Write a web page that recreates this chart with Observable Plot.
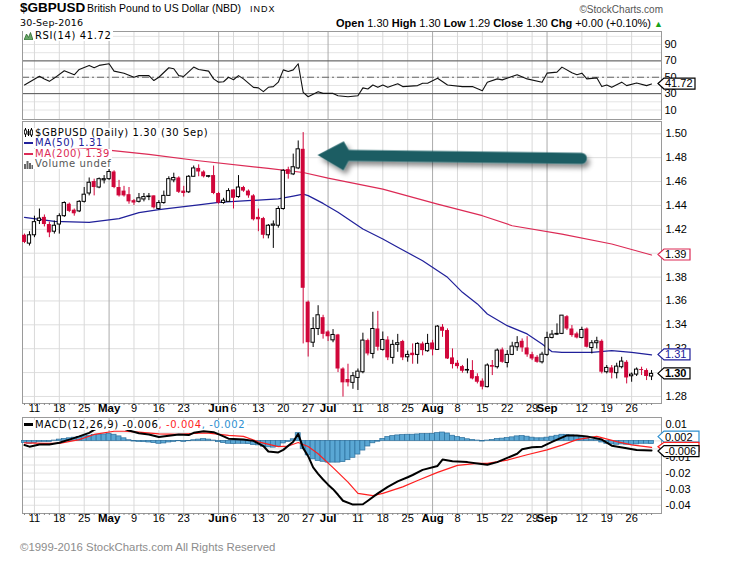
<!DOCTYPE html>
<html>
<head>
<meta charset="utf-8">
<script src="https://cdn.jsdelivr.net/npm/d3@7"></script>
<script src="https://cdn.jsdelivr.net/npm/@observablehq/plot@0.6"></script>
<style>
html,body{margin:0;padding:0;background:#fff}
#wrap{position:relative;width:729px;height:568px;overflow:hidden;background:#fff;font-family:"Liberation Sans",Arial,sans-serif;color:#000}
.t{position:absolute;white-space:nowrap}
.leg{position:absolute;white-space:nowrap;font-family:"DejaVu Sans",sans-serif;font-size:10px;letter-spacing:0.6px;line-height:10px;height:10px;background:#fff;padding:0 2px 0 1px;display:flex;align-items:center}
.leg svg{flex:none;margin-right:2px}
.dash{display:inline-block;width:9px;margin-right:2px;flex:none}
</style>
</head>
<body>
<div id="wrap"></div>
<script>
// ---------------- DATA ----------------
const firstDay = "2016-04-07", lastDay = "2016-09-30";

const opens = [
1.415,1.408,1.415,1.427,1.430,1.424,1.418,1.424,1.431,1.441,
1.436,1.435,1.443,1.450,1.460,1.455,1.461,1.462,1.468,1.455,
1.452,1.449,1.444,1.443,1.445,1.447,1.448,1.437,1.442,1.448,
1.461,1.463,1.452,1.451,1.464,1.471,1.468,1.464,1.465,1.450,
1.442,1.443,1.453,1.447,1.455,1.452,1.448,1.430,1.429,1.415,
1.423,1.423,1.437,1.470,1.466,1.471,1.487,1.359,1.325,1.3365,
1.346,1.334,1.327,1.3315,1.303,1.2942,1.2914,1.2955,1.3003,1.3268,
1.3156,1.3365,1.319,1.3273,1.3123,1.3232,1.326,1.3128,1.3162,1.3148,
1.324,1.3179,1.3248,1.319,1.338,1.3352,1.3123,1.3078,1.305,1.3017,
1.3017,1.2966,1.2928,1.2878,1.3059,1.3045,1.319,1.308,1.3148,1.3212,
1.3262,1.3206,1.315,1.3128,1.3086,1.3148,1.329,1.3318,1.3324,1.3468,
1.3365,1.3324,1.329,1.3365,1.3206,1.3246,1.3262,1.3003,1.3039,1.2995,
1.3045,1.3086,1.2969,1.2983,1.3025,1.3017,1.2967];
const highs = [
1.416,1.418,1.431,1.437,1.432,1.426,1.427,1.433,1.443,1.442,
1.437,1.444,1.455,1.463,1.462,1.463,1.465,1.470,1.469,1.461,
1.456,1.455,1.445,1.450,1.450,1.450,1.448,1.444,1.452,1.464,
1.467,1.464,1.456,1.465,1.473,1.474,1.469,1.465,1.473,1.451,
1.446,1.454,1.453,1.465,1.456,1.453,1.449,1.437,1.430,1.424,
1.427,1.439,1.470,1.472,1.483,1.494,1.501,1.360,1.346,1.356,
1.348,1.335,1.336,1.332,1.304,1.307,1.300,1.303,1.333,1.328,
1.3505,1.3513,1.334,1.330,1.327,1.332,1.327,1.318,1.324,1.325,
1.3255,1.332,1.327,1.3393,1.3402,1.3366,1.3198,1.310,1.306,1.3115,
1.310,1.299,1.2947,1.3073,1.3101,1.3198,1.3206,1.3184,1.3254,1.3301,
1.3282,1.3301,1.317,1.3142,1.317,1.3338,1.3352,1.3408,1.3477,1.3477,
1.3394,1.3338,1.338,1.3374,1.3268,1.3296,1.3274,1.3059,1.3059,1.3078,
1.3128,1.310,1.2997,1.3039,1.3045,1.3031,1.3017];
const lows = [
1.408,1.406,1.413,1.424,1.422,1.413,1.416,1.416,1.430,1.434,
1.431,1.434,1.442,1.448,1.448,1.454,1.458,1.461,1.454,1.447,
1.447,1.441,1.440,1.442,1.443,1.444,1.437,1.436,1.441,1.448,
1.459,1.450,1.447,1.450,1.464,1.464,1.463,1.463,1.449,1.441,
1.441,1.443,1.437,1.446,1.451,1.446,1.427,1.418,1.412,1.412,
1.404,1.421,1.436,1.462,1.465,1.470,1.324,1.313,1.321,1.331,
1.328,1.326,1.325,1.300,1.2795,1.288,1.286,1.285,1.299,1.314,
1.3115,1.318,1.318,1.310,1.307,1.317,1.310,1.3087,1.307,1.307,
1.314,1.317,1.314,1.3185,1.3295,1.311,1.303,1.303,1.2995,1.299,
1.2939,1.2905,1.2855,1.2872,1.2975,1.303,1.3078,1.3039,1.3142,1.3178,
1.317,1.3128,1.310,1.3078,1.3072,1.3136,1.3282,1.331,1.3318,1.3352,
1.3296,1.3282,1.3282,1.3206,1.3156,1.3198,1.2989,1.2989,1.2947,1.2947,
1.3031,1.2905,1.2919,1.2967,1.2975,1.2933,1.2933];
const closes = [
1.409,1.415,1.426,1.429,1.424,1.417,1.423,1.431,1.442,1.435,
1.433,1.443,1.449,1.459,1.455,1.462,1.462,1.468,1.455,1.448,
1.448,1.443,1.442,1.446,1.447,1.447,1.438,1.442,1.448,1.462,
1.463,1.451,1.450,1.464,1.471,1.468,1.464,1.4642,1.450,1.442,
1.444,1.452,1.446,1.455,1.452,1.448,1.428,1.428,1.415,1.423,
1.424,1.437,1.469,1.466,1.472,1.487,1.3706,1.325,1.3365,1.348,
1.332,1.330,1.3315,1.303,1.2914,1.2914,1.297,1.3008,1.3268,1.3156,
1.3365,1.3212,1.3273,1.3123,1.3232,1.3246,1.3123,1.3148,1.3142,1.324,
1.3184,1.324,1.319,1.3385,1.3346,1.3114,1.3067,1.305,1.3011,1.3019,
1.2947,1.2919,1.2878,1.3059,1.3045,1.3184,1.3086,1.3148,1.3218,1.3246,
1.3206,1.3148,1.3114,1.3086,1.315,1.329,1.3318,1.3324,1.3477,1.3365,
1.331,1.329,1.3357,1.3212,1.3246,1.3262,1.3003,1.3039,1.2995,1.305,
1.3092,1.2955,1.2983,1.3025,1.3017,1.2967,1.2989];

const ma50 = [["04-07",1.4300],["04-15",1.4266],["04-26",1.4258],["05-04",1.4290],["05-10",1.4340],["05-16",1.4365],
["05-26",1.4405],["06-01",1.4425],["06-13",1.4445],["06-17",1.4455],["06-22",1.4478],["06-24",1.4495],["06-27",1.4482],
["06-30",1.4417],["07-05",1.4342],["07-12",1.4202],["07-18",1.4119],["07-21",1.4049],["07-28",1.3937],["08-04",1.3798],
["08-09",1.3672],["08-12",1.3575],["08-16",1.3491],["08-22",1.3393],["08-26",1.3324],["08-31",1.3240],["09-02",1.3175],
["09-06",1.3170],["09-14",1.3170],["09-20",1.3184],["09-26",1.3170],["09-30",1.3148]];
const ma200 = [["04-07",1.4900],["04-26",1.4880],["05-12",1.4828],["05-26",1.4774],["06-15",1.4710],["06-24",1.4676],
["07-01",1.4629],["07-18",1.4537],["08-02",1.4411],["08-15",1.4314],["08-23",1.4230],["09-06",1.4160],["09-20",1.4077],["09-30",1.3985]];

const rsi = [["04-07",40.5],["04-12",51.3],["04-13",48],["04-14",45],["04-15",49],["04-19",58],["04-21",53],["04-22",59.5],
["04-26",64.5],["04-27",61.6],["04-28",64.5],["05-02",66.5],["05-03",57.5],["05-05",55],["05-09",50],["05-10",52],["05-12",52],
["05-13",46],["05-16",50],["05-18",61.6],["05-19",60.4],["05-20",52],["05-23",51],["05-25",62.4],["05-26",59.5],["05-30",57.5],
["05-31",48],["06-01",44],["06-02",44.5],["06-03",50],["06-06",47],["06-07",52],["06-08",48],["06-10",37.7],["06-13",37],
["06-14",32.4],["06-15",37.7],["06-16",38.6],["06-17",44],["06-20",59],["06-21",57],["06-22",59],["06-23",66.5],["06-24",31.6],
["06-27",26.2],["06-29",32.4],["06-30",30.3],["07-04",30.3],["07-05",27.5],["07-07",26.2],["07-11",27.5],["07-12",37],
["07-13",35.7],["07-14",40.6],["07-15",37.7],["07-18",40.6],["07-19",37.7],["07-21",42],["07-22",38.6],["07-27",39.8],
["07-28",42.7],["07-29",42.7],["08-02",48.8],["08-04",40.6],["08-09",38.6],["08-11",38.6],["08-15",33.6],["08-16",44],
["08-18",48],["08-19",46.8],["08-24",53],["08-26",48],["08-31",44],["09-01",55],["09-05",56.3],["09-06",62.4],["09-08",55.4],
["09-09",53],["09-12",55],["09-13",48],["09-15",49.3],["09-16",38.6],["09-19",40.6],["09-20",37.7],["09-22",44],["09-23",39.8],
["09-27",43],["09-29",39.8],["09-30",41.72]];

const macd = [["04-07",-0.0026],["04-08",-0.0036],["04-12",-0.0022],["04-14",-0.0022],["04-18",-0.0012],["04-20",0.0008],
["04-22",0.0028],["04-26",0.005],["04-27",0.0068],["04-29",0.0095],["05-03",0.0098],["05-06",0.0064],["05-10",0.0048],
["05-12",0.004],["05-16",0.0024],["05-18",0.0032],["05-20",0.004],["05-24",0.0036],["05-25",0.005],["05-27",0.006],
["05-31",0.0054],["06-02",0.0028],["06-03",0.0014],["06-08",0.0008],["06-10",0],["06-14",-0.0032],["06-15",-0.0066],
["06-17",-0.0072],["06-20",-0.0056],["06-22",-0.0006],["06-23",0.0044],["06-24",-0.0045],["06-27",-0.0095],["06-28",-0.0165],
["06-29",-0.0205],["06-30",-0.024],["07-01",-0.0272],["07-04",-0.030],["07-05",-0.0335],["07-06",-0.0372],["07-08",-0.0396],
["07-12",-0.0394],["07-13",-0.0372],["07-15",-0.0326],["07-19",-0.0286],["07-21",-0.0252],["07-25",-0.0226],["07-26",-0.0212],
["07-28",-0.018],["08-02",-0.0156],["08-03",-0.0116],["08-05",-0.0126],["08-10",-0.0132],["08-12",-0.014],["08-16",-0.0148],
["08-18",-0.0132],["08-22",-0.0106],["08-24",-0.008],["08-25",-0.0052],["08-29",-0.004],["08-31",-0.0036],["09-02",-0.0006],
["09-07",0.0034],["09-09",0.0034],["09-13",0.0028],["09-16",0.0008],["09-20",-0.003],["09-23",-0.0046],["09-27",-0.0056],
["09-30",-0.006]];
const signal = [["04-07",-0.0012],["04-13",-0.0016],["04-18",-0.0016],["04-22",0.0008],["04-27",0.004],["05-03",0.006],
["05-05",0.006],["05-10",0.0054],["05-16",0.0044],["05-20",0.004],["05-26",0.0048],["05-30",0.0048],["06-03",0.0034],
["06-08",0.0028],["06-13",-0.0006],["06-17",-0.0036],["06-21",-0.0032],["06-23",-0.001],["06-27",-0.0035],["06-29",-0.008],
["07-04",-0.0166],["07-07",-0.0256],["07-11",-0.0326],["07-14",-0.034],["07-18",-0.0326],["07-22",-0.0286],["07-27",-0.0246],
["08-02",-0.0196],["08-08",-0.0152],["08-12",-0.014],["08-16",-0.014],["08-22",-0.012],["08-26",-0.0086],["09-01",-0.0056],
["09-06",-0.0026],["09-09",0.0008],["09-15",0.0028],["09-21",-0.0005],["09-26",-0.0025],["09-30",-0.004]];
const histogram = [
-0.0014,-0.0018,-0.0014,-0.0006,-0.0006,-0.0006,0.0002,0.0008,0.0012,0.0016,
0.002,0.0024,0.0028,0.0032,0.0036,0.0038,0.004,0.0042,0.0038,0.0028,
0.0016,0.0004,-0.0004,-0.0006,-0.0008,-0.001,-0.0014,-0.0018,-0.0016,-0.001,
-0.0006,-0.0002,-0.0006,-0.0002,0.0004,0.0008,0.0011,0.0008,0.0002,-0.0008,
-0.0014,-0.0018,-0.002,-0.0018,-0.0018,-0.002,-0.0026,-0.0028,-0.0036,-0.004,
-0.0042,-0.0036,-0.0016,-0.0006,0.001,0.0048,-0.005,-0.009,-0.0115,-0.0125,
-0.013,-0.0135,-0.0135,-0.0135,-0.0132,-0.012,-0.0105,-0.0085,-0.006,-0.0035,
-0.0015,-0.0005,0.0012,0.0024,0.003,0.0034,0.0036,0.0038,0.0038,0.004,
0.0042,0.0042,0.0044,0.0048,0.0052,0.0046,0.0032,0.0024,0.0018,0.001,
0.0006,0.0002,-0.0004,0.0002,0.0006,0.0012,0.0014,0.0018,0.0022,0.0028,
0.003,0.0026,0.002,0.0016,0.0016,0.002,0.0026,0.0032,0.0038,0.0036,
0.0034,0.003,0.0026,0.0016,0.0008,0.0004,-0.001,-0.0018,-0.0022,-0.0024,
-0.0022,-0.0024,-0.0024,-0.0022,-0.0018,-0.0018,-0.002];

const weekTicks = [["04-11","11"],["04-18","18"],["04-25","25"],["05-09","9"],["05-16","16"],["05-23","23"],["06-06","6"],
["06-13","13"],["06-20","20"],["06-27","27"],["07-11","11"],["07-18","18"],["07-25","25"],["08-08","8"],["08-15","15"],
["08-22","22"],["08-29","29"],["09-12","12"],["09-19","19"],["09-26","26"]];
const monthTicks = [["05-02","May"],["06-01","Jun"],["07-01","Jul"],["08-01","Aug"],["09-01","Sep"]];
const priceTicks = [1.28,1.30,1.32,1.34,1.36,1.38,1.40,1.42,1.44,1.46,1.48,1.50];
const rsiTicks = [10,30,50,70,90];
const rsiGrid = [10,20,30,40,50,60,70,80,90,100];
const rsiBands = [30,70], rsiMid = [50];
const macdTicks = [0.01,0,-0.01,-0.02,-0.03,-0.04];
const macdGrid = [0.01,0.005,0,-0.005,-0.01,-0.015,-0.02,-0.025,-0.03,-0.035,-0.04];
const arrowTip = ["06-29",1.4818], arrowTail = ["09-12",1.4790];

// ---------------- BUILD ----------------
const wrap = document.getElementById("wrap");
const days = d3.utcDay.range(new Date(firstDay), d3.utcDay.offset(new Date(lastDay), 1)).filter(d => d.getUTCDay() % 6 !== 0);
const key = d3.utcFormat("%m-%d");
const dayIndex = new Map(days.map((d, i) => [key(d), i]));
const X = s => dayIndex.get(s);
const series = arr => arr.map(([d, v]) => ({i: X(d), v}));
const candles = days.map((d, i) => ({i, o: opens[i], h: highs[i], l: lows[i], c: closes[i]}));
const up = candles.filter(d => d.c >= d.o), down = candles.filter(d => d.c < d.o);
const bars = histogram.map((v, i) => ({i, v}));

const W = 729, ML = 22, MR = 68;
const FONT = "'Liberation Sans', Arial, sans-serif";
const xOpt = {type: "linear", domain: [-0.4, 128], axis: null};
const baseStyle = {background: "transparent", overflow: "visible", fontFamily: FONT, fontSize: "11px", color: "#000"};
const fmt2 = v => (v < 0 ? "-" : "") + Math.abs(v).toFixed(2);
const vGrid = () => [
  Plot.ruleX(weekTicks, {x: d => X(d[0]), stroke: "#d9d9d9"}),
  Plot.ruleX(monthTicks, {x: d => X(d[0]), stroke: "#ababab"})
];
const dayTicks = () => Plot.axisX(days.map((d, i) => i), {anchor: "bottom", tickSize: 2, tickFormat: () => "", stroke: "#8a8a8a", label: null});
const xLabels = () => [
  Plot.text(weekTicks, {x: d => X(d[0]), text: d => d[1], frameAnchor: "bottom", dy: 8, fontSize: 11}),
  Plot.text(monthTicks, {x: d => X(d[0]), text: d => d[1], frameAnchor: "bottom", dy: 8, fontSize: 11.5, fontWeight: "bold"})
];

const rsiPlot = Plot.plot({
  width: W, height: 95, marginLeft: ML, marginRight: MR, marginTop: 6, marginBottom: 1,
  x: xOpt, y: {domain: [-1.6, 105.9]},
  style: baseStyle,
  marks: [
    Plot.ruleY(rsiGrid, {stroke: "#e4e4e4"}),
    ...vGrid(),
    Plot.ruleY(rsiBands, {stroke: "#555"}),
    Plot.ruleY(rsiMid, {stroke: "#666", strokeDasharray: "7,3,2,3"}),
    Plot.frame({stroke: "#9a9a9a"}),
    Plot.line(series(rsi), {x: "i", y: "v", stroke: "#111", strokeWidth: 1.1}),
    Plot.axisY({anchor: "right", ticks: rsiTicks, tickSize: 0, tickPadding: 3, fontSize: 11, label: null})
  ]
});

const mainPlot = Plot.plot({
  width: W, height: 296, marginLeft: ML, marginRight: MR, marginTop: 1, marginBottom: 13,
  x: xOpt, y: {domain: [1.2741, 1.5103]},
  style: baseStyle,
  marks: [
    Plot.ruleY(priceTicks, {stroke: "#dedede"}),
    ...vGrid(),
    Plot.frame({stroke: "#9a9a9a"}),
    Plot.line(series(ma200), {x: "i", y: "v", stroke: "#dc2a55", strokeWidth: 1.2}),
    Plot.line(series(ma50), {x: "i", y: "v", stroke: "#20209a", strokeWidth: 1.2}),
    Plot.ruleX(down, {x: "i", y1: "l", y2: "h", stroke: "#d0063a"}),
    Plot.ruleX(up, {x: "i", y1: "l", y2: "h", stroke: "#000"}),
    Plot.rect(down, {x1: d => d.i - 0.4, x2: d => d.i + 0.4, y1: "o", y2: d => Math.min(d.c, d.o - 0.0007), fill: "#d0063a"}),
    Plot.rect(up, {x1: d => d.i - 0.33, x2: d => d.i + 0.33, y1: "o", y2: d => Math.max(d.c, d.o + 0.0005), fill: "#fff", stroke: "#000", strokeWidth: 1}),
    Plot.axisY({anchor: "right", ticks: priceTicks, tickSize: 0, tickPadding: 4, tickFormat: d => d.toFixed(2), fontSize: 11, label: null}),
    dayTicks(),
    ...xLabels()
  ]
});

const macdPlot = Plot.plot({
  width: W, height: 116, marginLeft: ML, marginRight: MR, marginTop: 1, marginBottom: 19,
  x: xOpt, y: {domain: [-0.04513, 0.01453]},
  style: baseStyle,
  marks: [
    Plot.ruleY(macdGrid, {stroke: "#e2e2e2"}),
    ...vGrid(),
    Plot.frame({stroke: "#9a9a9a"}),
    Plot.rect(bars, {x1: d => d.i - 0.5, x2: d => d.i + 0.5, y1: () => 0, y2: "v", fill: "#5aa7d4", stroke: "#2c6f9c", strokeWidth: 0.7}),
    Plot.line(series(signal), {x: "i", y: "v", stroke: "#ff1f1f", strokeWidth: 1.2}),
    Plot.line(series(macd), {x: "i", y: "v", stroke: "#000", strokeWidth: 2}),
    Plot.axisY({anchor: "right", ticks: macdTicks, tickSize: 0, tickPadding: 4, tickFormat: fmt2, fontSize: 11, label: null}),
    dayTicks(),
    ...xLabels()
  ]
});

function place(svg, top) { svg.style.position = "absolute"; svg.style.top = top + "px"; svg.style.left = "0px"; wrap.appendChild(svg); }
place(rsiPlot, 25); place(mainPlot, 120); place(macdPlot, 416);

function valueBox(plot, value, label, {stroke = "#000", color = "#000", bold = false, w = 26, shift = 0, h = 11} = {}) {
  const y = plot.scale("y").apply(value) + shift;
  const x0 = W - MR - 3, x1 = x0 + 6, x2 = x1 + w;
  const g = d3.select(plot).append("g");
  g.append("path").attr("d", `M${x0},${y}L${x1},${y - h / 2}H${x2}V${y + h / 2}H${x1}Z`)
    .attr("fill", "#fff").attr("stroke", stroke).attr("stroke-width", 1.2);
  if (label) g.append("text").attr("x", x1 + 1).attr("y", y).attr("dy", "0.36em").attr("font-size", 11)
    .attr("text-anchor", "start").attr("font-family", FONT).attr("font-weight", bold ? "bold" : null)
    .attr("fill", color).text(label);
}
const lastOf = arr => arr[arr.length - 1][1];
valueBox(rsiPlot, lastOf(rsi), lastOf(rsi).toFixed(2), {w: 31});
valueBox(mainPlot, lastOf(ma200), "1.39", {stroke: "#dc2a55"});
valueBox(mainPlot, lastOf(ma50), "1.31", {stroke: "#20209a", color: "#20209a"});
valueBox(mainPlot, closes[closes.length - 1], closes[closes.length - 1].toFixed(2), {bold: true});
valueBox(macdPlot, histogram[histogram.length - 1], "0.002", {stroke: "#2c8fd0", w: 35, shift: -7});
valueBox(macdPlot, lastOf(signal), null, {stroke: "#ff1f1f", w: 35, h: 9});
valueBox(macdPlot, lastOf(macd), "-0.006", {w: 35, shift: 1});

(function drawArrow(plot) {
  const sx = plot.scale("x"), sy = plot.scale("y");
  const tx = sx.apply(X(arrowTip[0])), ty = sy.apply(arrowTip[1]);
  const ex = sx.apply(X(arrowTail[0])), ey = sy.apply(arrowTail[1]);
  const L = Math.hypot(ex - tx, ey - ty), ang = Math.atan2(ey - ty, ex - tx) * 180 / Math.PI;
  const svg = d3.select(plot);
  svg.append("defs").append("filter").attr("id", "ashadow").attr("x", "-10%").attr("y", "-60%").attr("width", "125%").attr("height", "260%")
    .append("feDropShadow").attr("dx", 3).attr("dy", 4).attr("stdDeviation", 2.5).attr("flood-color", "#000").attr("flood-opacity", 0.45);
  const r = 5.5;
  svg.append("path").attr("d", `M0,0L26,-14L31,${-r}L${L},${-r}A${r},${r} 0 0 1 ${L},${r}L31,${r}L26,15Z`)
    .attr("transform", `translate(${tx},${ty}) rotate(${ang})`).attr("fill", "#1b5d63").attr("filter", "url(#ashadow)");
})(mainPlot);

// ---------------- TEXT ----------------
function addDiv(cls, css, html) { const d = document.createElement("div"); d.className = cls; d.style.cssText = css; d.innerHTML = html; wrap.appendChild(d); return d; }
addDiv("t", "left:20px;top:0px;line-height:15px;font-size:13.5px;font-weight:bold", "$GBPUSD");
addDiv("t", "left:87px;top:1.5px;line-height:13px;font-size:10.5px", "British Pound to US Dollar (NBD)");
addDiv("t", "left:250px;top:2.5px;line-height:12px;font-size:9px;letter-spacing:1px", "INDX");
addDiv("t", "left:20px;top:17px;line-height:12px;font-size:9.5px;font-family:'DejaVu Sans',sans-serif;letter-spacing:0.2px", "30-Sep-2016");
addDiv("t", "right:66px;top:4px;line-height:12px;font-size:10px;color:#555", "&copy;StockCharts.com");
addDiv("t", "right:66px;top:17px;line-height:12px;font-size:11px",
  "<b>Open</b> 1.30 <b>High</b> 1.30 <b>Low</b> 1.29 <b>Close</b> 1.30 <b>Chg</b> +0.00 (+0.10%) <span style='color:#19a319;font-size:9px'>&#9650;</span>");

const rsiIcon = "<svg width='9' height='8'><path d='M0,8L2.5,2L4.5,5.5L6.5,0.5L9,8Z' fill='#6aa86a' stroke='#2f6b2f' stroke-width='0.8'/></svg>";
const candleIcon = "<svg width='9' height='9'><path d='M1.5,0V9M4.5,1V8M7.5,0V9' stroke='#000'/><rect x='0.5' y='2' width='2' height='4' fill='#fff' stroke='#000' stroke-width='0.8'/><rect x='3.5' y='3' width='2' height='4' fill='#000'/><rect x='6.5' y='2' width='2' height='5' fill='#fff' stroke='#000' stroke-width='0.8'/></svg>";
const volIcon = "<svg width='9' height='9'><rect x='0' y='4' width='2' height='5' fill='#666'/><rect x='2.5' y='1' width='2' height='8' fill='#666'/><rect x='5' y='3' width='2' height='6' fill='#666'/><rect x='7.5' y='5' width='1.5' height='4' fill='#666'/></svg>";

addDiv("leg", "left:23px;top:31px", rsiIcon + "RSI(14) 41.72");
addDiv("leg", "left:23px;top:127.5px", candleIcon + "$GBPUSD (Daily) 1.30 (30 Sep)");
addDiv("leg", "left:23px;top:138px;color:#20209a", "<span class='dash' style='height:2px;background:#20209a'></span>MA(50) 1.31");
addDiv("leg", "left:23px;top:148.5px;color:#dc2a55", "<span class='dash' style='height:2px;background:#dc2a55'></span>MA(200) 1.39");
addDiv("leg", "left:23px;top:159px;color:#555", volIcon + "Volume undef");
addDiv("leg", "left:23px;top:419.5px",
  "<span class='dash' style='height:3px;background:#000'></span>MACD(12,26,9) -0.006<span style='color:#ff1f1f'>, -0.004</span><span style='color:#2c8fd0'>, -0.002</span>");
addDiv("t", "left:20px;top:541px;line-height:12px;font-size:11.4px;color:#8c8c8c", "&copy;1999-2016 StockCharts.com All Rights Reserved");
</script>
</body>
</html>
